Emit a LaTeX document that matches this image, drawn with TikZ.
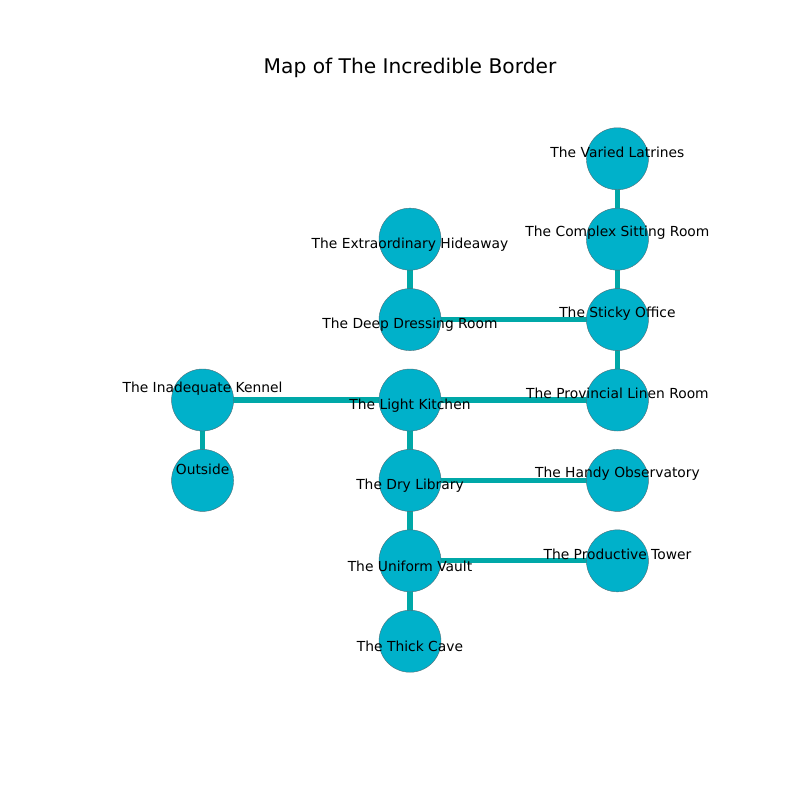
\documentclass[tikz,border=0pt]{standalone}
\usepackage{fontspec}
\setmainfont{DejaVu Sans}
\usetikzlibrary{positioning,backgrounds}
\definecolor{roomfill}{HTML}{00B1CA}
\definecolor{rim}{HTML}{4F6F78}
\definecolor{link}{HTML}{00A8A8}

\begin{document}
\begin{tikzpicture}[node distance=4.57mm and 36.83mm,
 room/.style={circle,fill=roomfill,draw=rim,line width=.3pt,minimum size=15.75mm,inner sep=0pt},
 lbl/.style={font=\fontsize{10}{12}\selectfont,inner sep=0pt},
 labdown/.style={lbl,yshift=-1.4mm},
 labup/.style={lbl,yshift=1.6mm},
 labtop/.style={lbl,yshift=2.9mm},
 path/.style={draw=link,line width=3.8pt}]
\useasboundingbox (0,0) rectangle (20.32,-20.32);
\node[font=\fontsize{14.6}{17}\selectfont] (title) at (10.414,-1.72) {Map of The Incredible Border};
\node[room,label={[labdown]center:The Light Kitchen}] (light) at (10.414,-10.16) {};
\node[room,left=of light,label={[labtop]center:The Inadequate Kennel}] (kennel) {};
\node[room,below=of kennel,label={[labtop]center:Outside}] (outside) {};
\node[room,above=of light,label={[labdown]center:The Deep Dressing Room}] (deep) {};
\node[room,above=of deep,label={[labdown]center:The Extraordinary Hideaway}] (hideaway) {};
\node[room,right=of light,label={[labup]center:The Provincial Linen Room}] (linen) {};
\node[room,above=of linen,label={[labup]center:The Sticky Office}] (sticky) {};
\node[room,above=of sticky,label={[labup]center:The Complex Sitting Room}] (sitting) {};
\node[room,above=of sitting,label={[labup]center:The Varied Latrines}] (latrines) {};
\node[room,below=of light,label={[labdown]center:The Dry Library}] (dry) {};
\node[room,below=of dry,label={[labdown]center:The Uniform Vault}] (vault) {};
\node[room,below=of vault,label={[labdown]center:The Thick Cave}] (cave) {};
\node[room,right=of dry,label={[labup]center:The Handy Observatory}] (handy) {};
\node[room,right=of vault,label={[labup]center:The Productive Tower}] (tower) {};
\begin{scope}[on background layer]
\draw[path] (latrines.center)--(sitting.center);\draw[path] (sitting.center)--(sticky.center);
\draw[path] (hideaway.center)--(deep.center);\draw[path] (deep.center)--(sticky.center);
\draw[path] (sticky.center)--(linen.center);\draw[path] (kennel.center)--(light.center);
\draw[path] (light.center)--(linen.center);\draw[path] (light.center)--(dry.center);
\draw[path] (dry.center)--(handy.center);\draw[path] (dry.center)--(vault.center);
\draw[path] (vault.center)--(tower.center);\draw[path] (vault.center)--(cave.center);
\draw[path] (kennel.center)--(outside.center);
\end{scope}
\end{tikzpicture}
\end{document}
